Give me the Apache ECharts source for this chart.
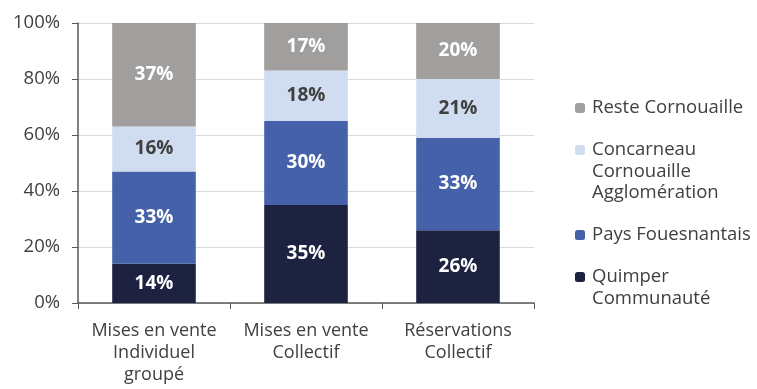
<!DOCTYPE html>
<html><head><meta charset="utf-8">
<script src="https://cdn.jsdelivr.net/npm/echarts@6/dist/echarts.min.js"></script>
<style>html,body{margin:0;padding:0;background:#fff}#c{width:757px;height:389px}</style>
</head><body><div id="c"></div>
<script>
const categories = ['Mises en vente\nIndividuel\ngroupé', 'Mises en vente\nCollectif', 'Réservations\nCollectif'];
const quimper = [14, 35, 26];
const fouesnant = [33, 30, 33];
const concarneau = [16, 18, 21];
const reste = [37, 17, 20];
const yTicks = [0, 20, 40, 60, 80, 100];

const FONT = '"Open Sans", sans-serif';
const TXT = '#404040';
const L = 21.5;

function ser(name, data, color, labelColor) {
  return {
    name, type: 'bar', stack: 's', data, barWidth: '55%',
    itemStyle: { color },
    label: { show: true, position: 'inside', formatter: '{c}%', color: labelColor,
      fontFamily: FONT, fontWeight: 'bold', fontSize: 19 }
  };
}
const legendDefs = [
  { name: 'Reste Cornouaille', lines: 1, firstY: 108 },
  { name: 'Concarneau\nCornouaille\nAgglomération', lines: 3, firstY: 150 },
  { name: 'Pays Fouesnantais', lines: 1, firstY: 235 },
  { name: 'Quimper\nCommunauté', lines: 2, firstY: 277 }
];
const chart = echarts.init(document.getElementById('c'));
chart.setOption({
  animation: false,
  grid: { left: 78, right: 223, top: 23, bottom: 86 },
  legend: legendDefs.map(d => {
    const padN = d.lines - 1;
    const total = (d.lines + padN) * L;
    const centerY = d.firstY;
    return {
      data: [d.name], left: 575, top: centerY - total / 2, orient: 'vertical',
      itemWidth: 10, itemHeight: 10, itemGap: 0, padding: 0, selectedMode: false,
      formatter: n => {
        let pre = '';
        for (let i = 0; i < padN; i++) pre += '{s|}\n';
        return pre + n.split('\n').map(t => '{t|' + t + '}').join('\n');
      },
      textStyle: { fontFamily: FONT, fontSize: 18.5, color: TXT, lineHeight: L,
        rich: {
          s: { height: L, lineHeight: L, fontSize: 18.5 },
          t: { fontFamily: FONT, fontSize: 18.5, color: TXT, lineHeight: L, padding: [0, 0, 0, 2] }
        } }
    };
  }),
  xAxis: {
    type: 'category', data: categories,
    axisLine: { lineStyle: { color: '#595959', width: 1.5 } },
    axisTick: { show: true, length: 6, lineStyle: { color: '#595959' } },
    axisLabel: { interval: 0, fontFamily: FONT, fontSize: 18, color: TXT, lineHeight: 22, margin: 17 }
  },
  yAxis: {
    type: 'value', min: 0, max: 100, interval: 20,
    axisLine: { show: true, lineStyle: { color: '#595959', width: 1.5 } },
    axisTick: { show: true, length: 6, lineStyle: { color: '#595959' } },
    splitLine: { lineStyle: { color: '#d9d9d9' } },
    axisLabel: { fontFamily: FONT, fontSize: 18.5, color: TXT, margin: 18,
      formatter: v => yTicks.includes(v) ? v + '%' : '' }
  },
  series: [
    ser('Quimper\nCommunauté', quimper, '#1c2240', '#ffffff'),
    ser('Pays Fouesnantais', fouesnant, '#4461aa', '#ffffff'),
    ser('Concarneau\nCornouaille\nAgglomération', concarneau, '#d0dcf0', TXT),
    ser('Reste Cornouaille', reste, '#a09f9d', '#ffffff')
  ]
});
</script></body></html>
